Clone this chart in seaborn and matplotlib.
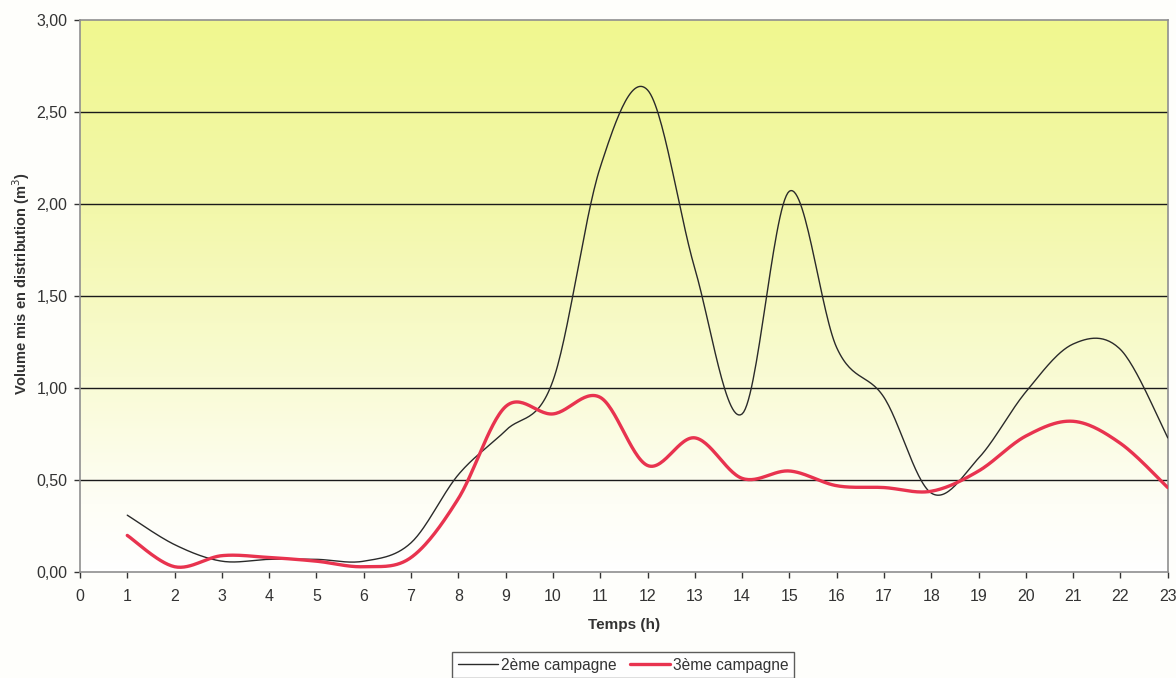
import numpy as np
import pandas as pd
import matplotlib
matplotlib.use("Agg")
import matplotlib.pyplot as plt
import seaborn as sns
from matplotlib.colors import LinearSegmentedColormap

# Hourly distributed volume (m3) for the two measurement campaigns
hours = list(range(1, 24))
campagne_2 = [0.31, 0.15, 0.06, 0.07, 0.07, 0.06, 0.16, 0.53, 0.77, 1.04,
              2.20, 2.62, 1.65, 0.86, 2.07, 1.22, 0.95, 0.43, 0.62, 0.98,
              1.24, 1.21, 0.73]
campagne_3 = [0.20, 0.03, 0.09, 0.08, 0.06, 0.03, 0.08, 0.40, 0.90, 0.86,
              0.95, 0.58, 0.73, 0.51, 0.55, 0.47, 0.46, 0.44, 0.55, 0.74,
              0.82, 0.70, 0.46]
series_names = ["2ème campagne", "3ème campagne"]
x_ticks = list(range(0, 24))
y_ticks = [0.0, 0.5, 1.0, 1.5, 2.0, 2.5, 3.0]


def smooth(x, y, n=30):
    """Cardinal-spline smoothing through every data point (spreadsheet style)."""
    x = np.asarray(x, float)
    y = np.asarray(y, float)
    xs, ys = [], []
    for i in range(len(x) - 1):
        p0 = (x[i - 1], y[i - 1]) if i > 0 else (x[i], y[i])
        p1 = (x[i], y[i])
        p2 = (x[i + 1], y[i + 1])
        p3 = (x[i + 2], y[i + 2]) if i + 2 < len(x) else (x[i + 1], y[i + 1])
        c1 = (p1[0] + (p2[0] - p0[0]) / 6, p1[1] + (p2[1] - p0[1]) / 6)
        c2 = (p2[0] - (p3[0] - p1[0]) / 6, p2[1] - (p3[1] - p1[1]) / 6)
        t = np.linspace(0, 1, n, endpoint=(i == len(x) - 2))
        b0 = (1 - t) ** 3
        b1 = 3 * (1 - t) ** 2 * t
        b2 = 3 * (1 - t) * t ** 2
        b3 = t ** 3
        xs.append(b0 * p1[0] + b1 * c1[0] + b2 * c2[0] + b3 * p2[0])
        ys.append(b0 * p1[1] + b1 * c1[1] + b2 * c2[1] + b3 * p2[1])
    return np.concatenate(xs), np.concatenate(ys)


frames = []
for name, vals in zip(series_names, [campagne_2, campagne_3]):
    sx, sy = smooth(hours, vals)
    frames.append(pd.DataFrame({"Temps": sx, "Volume": sy, "Série": name}))
df = pd.concat(frames, ignore_index=True)

sns.set_theme(style="white")
plt.rcParams["font.family"] = ["Liberation Sans", "DejaVu Sans"]

fig = plt.figure(figsize=(11.76, 6.78), dpi=100, facecolor="#fefefb")
ax = fig.add_axes([0.068, 0.156, 0.925, 0.8145])

# Yellow gradient background fading to white near the bottom
cmap = LinearSegmentedColormap.from_list(
    "fond", [(0.0, "#ffffff"), (0.12, "#fefef6"), (0.35, "#f9fbd4"),
             (0.65, "#f3f8ab"), (1.0, "#f0f78f")])
grad = np.linspace(0, 1, 300).reshape(-1, 1)
ax.imshow(grad, extent=[0, 23, 0, 3], origin="lower", aspect="auto",
          cmap=cmap, zorder=0)

for yv in y_ticks[1:-1]:
    ax.axhline(yv, color="#1a1a1a", lw=1.0, zorder=1)

palette = {"2ème campagne": "#2a2a2a", "3ème campagne": "#e8334f"}
sns.lineplot(data=df, x="Temps", y="Volume", hue="Série", palette=palette,
             sort=False, estimator=None, ax=ax, legend=False, zorder=3)
lines = ax.get_lines()[-2:]
lines[0].set_linewidth(1.0)
lines[1].set_linewidth(2.4)

ax.set_xlim(0, 23)
ax.set_ylim(0, 3)
ax.set_xticks(x_ticks)
ax.set_yticks(y_ticks)
ax.set_yticklabels([f"{v:.2f}".replace(".", ",") for v in y_ticks])
ax.tick_params(axis="both", labelsize=11.5, colors="#333333", length=4,
               width=1, direction="out", bottom=True, left=True)
ax.tick_params(axis="x", pad=8)
ax.tick_params(axis="y", pad=5)
for s in ax.spines.values():
    s.set_color("#8f8f8f")
    s.set_linewidth(1.2)

ax.set_xlabel("Temps (h)", fontsize=11, fontweight="bold", color="#333333",
              labelpad=10)
ax.set_ylabel("Volume mis en distribution (m$^3$)", fontsize=10.5,
              fontweight="bold", color="#333333", labelpad=5)
ax.yaxis.set_label_coords(-0.044, 0.522)

handles = [plt.Line2D([], [], color=palette[n], lw=(1.0 if i == 0 else 2.4))
           for i, n in enumerate(series_names)]
leg = fig.legend(handles, series_names, loc="lower center",
                 bbox_to_anchor=(0.53, -0.012), ncol=2, frameon=True,
                 fontsize=11.2, handlelength=2.6, handletextpad=0.2,
                 columnspacing=0.8, borderpad=0.35, fancybox=False)
leg.get_frame().set_edgecolor("#333333")
leg.get_frame().set_linewidth(1.0)
for t in leg.get_texts():
    t.set_color("#333333")

fig.savefig("out.png", dpi=100, facecolor=fig.get_facecolor())
